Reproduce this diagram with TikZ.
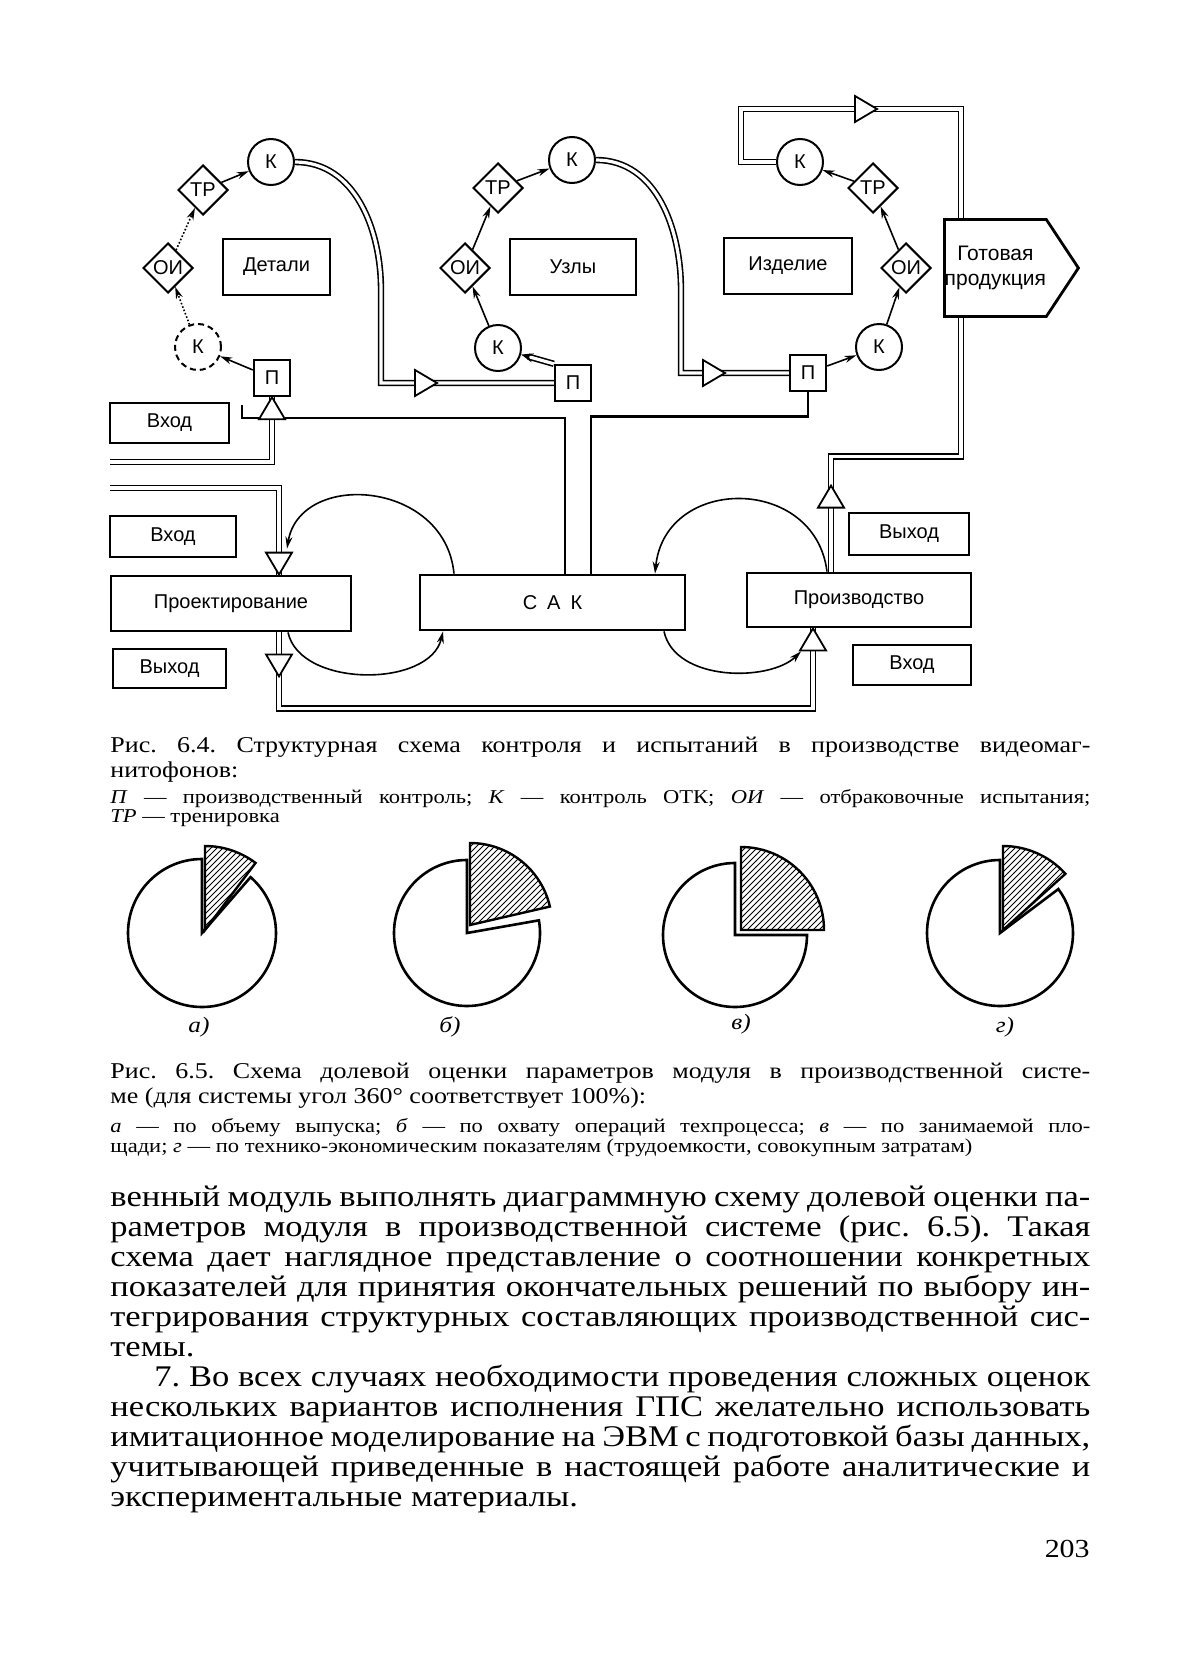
\documentclass[tikz,border=0pt]{standalone}
\usepackage{fontspec}
\setmainfont[FakeStretch=1.15]{Liberation Serif}
\newfontfamily\diafont{Liberation Sans}
\usetikzlibrary{arrows.meta,shapes.geometric,shapes.symbols,patterns}

\begin{document}
\begin{tikzpicture}[x=0.5pt, y=0.5pt,
  dfont/.style={font=\diafont\fontsize{10}{12}\selectfont},
  kbox/.style={circle, draw, line width=1pt, minimum size=23pt, inner sep=0pt, dfont},
  tbox/.style={diamond, draw, line width=1pt, minimum size=25pt, inner sep=0pt, dfont},
  pbox/.style={rectangle, draw, line width=1.2pt, minimum size=18pt, inner sep=0pt, dfont},
  lbox/.style={rectangle, draw, line width=1.4pt, inner sep=0pt, align=center, dfont},
  arr/.style={-{Stealth[length=6pt, width=3.5pt]}, line width=0.8pt},
  dbl/.style={double, double distance=1.6pt, line width=0.8pt},
  pipe/.style={line width=1.3pt},
  pie/.style={line width=1.3pt, fill=white},
  hatch/.style={line width=1.2pt, pattern=north east lines},
  opentip/.pic={\draw[fill=white, line width=0.9pt] (0,0) -- (-22,13) -- (-22,-13) -- cycle;},
  captext/.style={anchor=base west, text width=490pt, align=justify, inner sep=0pt,
                  execute at begin node={\frenchspacing\tolerance=10000\hyphenpenalty=10000}}
]
\useasboundingbox (0,0) rectangle (1200,-1659);

% Detail loop
\node[kbox] (k1) at (271,-162) {К};
\node[tbox] (tr1) at (203,-190) {ТР};
\node[tbox] (oi1) at (168,-268) {ОИ};
\node[kbox, densely dashed] (k0) at (198,-347) {К};
\node[pbox] (p1) at (272,-378) {П};
\node[lbox, minimum width=53.5pt, minimum height=28pt] (parts) at (276.5,-267) {Детали};

% Unit loop
\node[kbox] (k2) at (572,-160) {К};
\node[tbox] (tr2) at (498,-188) {ТР};
\node[tbox] (oi2) at (465,-268) {ОИ};
\node[kbox] (k3) at (498,-348) {К};
\node[pbox] (p2) at (573,-383) {П};
\node[lbox, minimum width=63pt, minimum height=28pt] (units) at (573,-267) {Узлы};

% Product loop
\node[kbox] (k4) at (800,-162) {К};
\node[tbox] (tr3) at (873,-188) {ТР};
\node[tbox] (oi3) at (906,-268) {ОИ};
\node[kbox] (k5) at (879,-347) {К};
\node[pbox] (p3) at (808,-373) {П};
\node[lbox, minimum width=64pt, minimum height=28pt] (product) at (788,-266) {Изделие};
\node[lbox, signal, signal to=east, signal pointer angle=113, minimum width=67pt,
      minimum height=48.5pt, anchor=west, font=\diafont\fontsize{10.5}{12.5}\selectfont]
      (ready) at (943,-268) {Готовая\\продукция};
\coordinate (rx) at (961,-268);

% Lower row
\node[lbox, minimum width=59.5pt, minimum height=20pt] (in1) at (169.5,-423) {Вход};
\node[lbox, minimum width=63pt, minimum height=20.5pt] (in2) at (173,-536.5) {Вход};
\node[lbox, minimum width=56.5pt, minimum height=19.5pt] (out1) at (169.5,-668.5) {Выход};
\node[lbox, minimum width=120pt, minimum height=27.5pt] (design) at (231,-603.5) {Проектирование};
\node[lbox, minimum width=132.5pt, minimum height=27.5pt] (sak) at (552.5,-602.5)
  {С\hspace{5pt}А\hspace{5pt}К};
\node[lbox, minimum width=112pt, minimum height=27pt] (prod) at (859,-600) {Производство};
\node[lbox, minimum width=60pt, minimum height=21pt] (out2) at (909,-534) {Выход};
\node[lbox, minimum width=59pt, minimum height=20pt] (in3) at (912,-665) {Вход};
\coordinate (inA) at (110,-462);
\coordinate (inB) at (110,-488);
\coordinate (tick) at (242,-405);

% Loop arrows
\draw[arr] (p1) -- (k0);
\draw[arr, densely dotted] (k0) -- (oi1);
\draw[arr, densely dotted] (oi1) -- (tr1);
\draw[arr] (tr1) -- (k1);
\draw[dbl, -{Stealth[length=6pt]}] (p2.north west) -- (k3);
\draw[arr] (k3) -- (oi2);
\draw[arr] (oi2) -- (tr2);
\draw[arr] (tr2) -- (k2);
\draw[arr] (p3) -- (k5);
\draw[arr] (k5) -- (oi3);
\draw[arr] (oi3) -- (tr3);
\draw[arr] (tr3) -- (k4);

% Double lines
\draw[dbl] (k1.east) to[out=0, in=90] (381,-290) |- (p2.west);
\pic at (437,-383) {opentip};
\draw[dbl] (k2.east) to[out=0, in=90] (681,-290) |- (p3.west);
\pic at (725,-373) {opentip};
\draw[dbl] (k4.west) -- ++(-35,0) -- ++(0,53) -| (rx |- ready.north);
\pic at (877,-109) {opentip};
\draw[dbl] ([xshift=-14pt]prod.north) -- ++(0,115) -| (rx |- ready.south);
\pic[rotate=90] at ([xshift=-14pt, yshift=43pt]prod.north) {opentip};

% SAK links
\draw[pipe] (tick) -- ++(0,-13) -| ([xshift=6.25pt]sak.north);
\draw[pipe] ([xshift=19.25pt]sak.north) -- ++(0,157) -| (p3.south);
\draw[dbl] (inA) -| (p1.south);
\pic[rotate=90] at (p1.south) {opentip};
\draw[dbl] (inB) -| ([xshift=24pt]design.north);
\pic[rotate=-90] at ([xshift=24pt]design.north) {opentip};
\draw[dbl] ([xshift=24pt]design.south) -- ++(0,-76) -| ([xshift=-23pt]prod.south);
\pic[rotate=-90] at ([xshift=24pt, yshift=-22pt]design.south) {opentip};
\pic[rotate=90] at ([xshift=-23pt]prod.south) {opentip};

% Feedback arcs
\draw[arr] ([xshift=-49.25pt]sak.north) .. controls (445,-480) and (300,-470)
  .. ([xshift=28pt, yshift=13pt]design.north);
\draw[arr] ([xshift=28.5pt]design.south) .. controls (300,-688) and (430,-688)
  .. ([xshift=-54.75pt]sak.south);
\draw[arr] ([xshift=-16pt]prod.north) .. controls (815,-475) and (665,-475)
  .. ([xshift=51.25pt]sak.north);
\draw[arr] ([xshift=55.75pt]sak.south) .. controls (675,-682) and (770,-682)
  .. ([xshift=-29pt, yshift=-11.5pt]prod.south);

% Caption 6.4
\node[captext, font=\fontsize{11.3}{12.5}\selectfont] (cap1) at (110,-752)
  {Рис. 6.4. Структурная схема контроля и испытаний в производстве видеомаг-\linebreak
   нитофонов:};
\node[captext, font=\fontsize{9.8}{9.8}\selectfont] (leg1) at (110,-803)
  {\textit{П} — производственный контроль; \textit{К} — контроль ОТК; \textit{ОИ} — отбраковочные испытания;\linebreak
   \textit{ТР} — тренировка};

% Pies
\draw[pie] (202,-933) -- +(90:74) arc[start angle=90, end angle=409, radius=74] -- cycle;
\draw[hatch] (205,-930) -- +(90:84) arc[start angle=90, end angle=53, radius=84] -- cycle;
\draw[pie] (467,-933) -- +(90:73) arc[start angle=90, end angle=370, radius=73] -- cycle;
\draw[hatch] (470,-925) -- +(90:82) arc[start angle=90, end angle=13, radius=82] -- cycle;
\draw[pie] (735,-935) -- +(90:72) arc[start angle=90, end angle=360, radius=72] -- cycle;
\draw[hatch] (741,-930) -- +(90:83) arc[start angle=90, end angle=0, radius=83] -- cycle;
\draw[pie] (1000,-933) -- +(90:73) arc[start angle=90, end angle=397, radius=73] -- cycle;
\draw[hatch] (1003,-930) -- +(90:84) arc[start angle=90, end angle=42, radius=84] -- cycle;
\node[font=\itshape\fontsize{11}{13}\selectfont] (la) at (199,-1027) {а)};
\node[font=\itshape\fontsize{11}{13}\selectfont] (lb) at (450,-1027) {б)};
\node[font=\itshape\fontsize{11}{13}\selectfont] (lc) at (741,-1024) {в)};
\node[font=\itshape\fontsize{11}{13}\selectfont] (ld) at (1005,-1027) {г)};

% Caption 6.5
\node[captext, font=\fontsize{11.3}{12.5}\selectfont] (cap2) at (110,-1078)
  {Рис. 6.5. Схема долевой оценки параметров модуля в производственной систе-\linebreak
   ме (для системы угол 360° соответствует 100\%):};
\node[captext, font=\fontsize{9.8}{10}\selectfont] (leg2) at (110,-1132)
  {\parfillskip=0pt \textit{а} — по объему выпуска; \textit{б} — по охвату операций техпроцесса; \textit{в} — по занимаемой пло-\linebreak
   щади; \textit{г} — по технико-экономическим показателям (трудоемкости, совокупным затратам)};

% Body text
\node[captext, font=\fontsize{15}{15}\selectfont] (body1) at (110,-1206)
  {венный модуль выполнять диаграммную схему долевой оценки па-\linebreak
   раметров модуля в производственной системе (рис. 6.5). Такая\linebreak
   схема дает наглядное представление о соотношении конкретных\linebreak
   показателей для принятия окончательных решений по выбору ин-\linebreak
   тегрирования структурных составляющих производственной сис-\linebreak
   темы.};
\node[captext, font=\fontsize{15}{15}\selectfont] (body2) at (110,-1386)
  {\hspace*{22pt}7. Во всех случаях необходимости проведения сложных оценок\linebreak
   нескольких вариантов исполнения ГПС желательно использовать\linebreak
   имитационное моделирование на ЭВМ с подготовкой базы данных,\linebreak
   учитывающей приведенные в настоящей работе аналитические и\linebreak
   экспериментальные материалы.};
\node[anchor=base east, inner sep=0pt, font=\fontsize{13}{15}\selectfont] (page) at (1090,-1557) {203};
\end{tikzpicture}
\end{document}
